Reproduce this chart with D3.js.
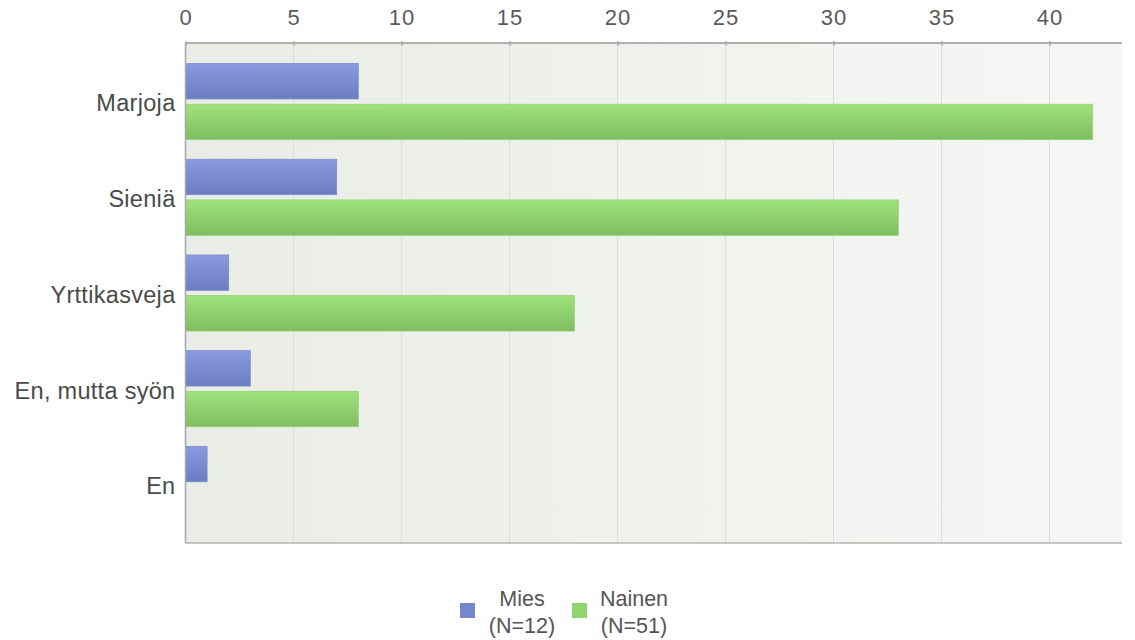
<!DOCTYPE html>
<html><head><meta charset="utf-8">
<script src="https://cdn.jsdelivr.net/npm/d3@7"></script>
<style>html,body{margin:0;padding:0;background:#fff;}svg{display:block;}</style>
</head><body>
<svg id="c" width="1135" height="640"></svg>
<script>
const categories = ["Marjoja", "Sieniä", "Yrttikasveja", "En, mutta syön", "En"];
const seriesNames = ["Mies", "Nainen"];
const seriesN = ["(N=12)", "(N=51)"];
const mies = [8, 7, 2, 3, 1];
const nainen = [42, 33, 18, 8, 0];
const xTicks = [0, 5, 10, 15, 20, 25, 30, 35, 40];

const svg = d3.select("#c");
const L = 185.5, R = 1122, T = 43, B = 543;
const x = d3.scaleLinear().domain([0, 40]).range([L, 1049.5]);
const y0 = d3.scaleBand().domain(categories).range([T, B]).paddingInner(0.205).paddingOuter(0.215);
const y1 = d3.scaleBand().domain(seriesNames).range([0, y0.bandwidth()]).paddingInner(0.13);

const defs = svg.append("defs");
const bg = defs.append("linearGradient").attr("id", "bg").attr("x1", 0).attr("x2", 1).attr("y1", 0).attr("y2", 0);
bg.append("stop").attr("offset", 0).attr("stop-color", "#e9ede5");
bg.append("stop").attr("offset", 1).attr("stop-color", "#f6f7f5");
const gb = defs.append("linearGradient").attr("id", "gBlue").attr("x1", 0).attr("x2", 0).attr("y1", 0).attr("y2", 1);
gb.append("stop").attr("offset", 0).attr("stop-color", "#8a9ae2");
gb.append("stop").attr("offset", 1).attr("stop-color", "#6b7cc0");
const gg = defs.append("linearGradient").attr("id", "gGreen").attr("x1", 0).attr("x2", 0).attr("y1", 0).attr("y2", 1);
gg.append("stop").attr("offset", 0).attr("stop-color", "#9fe27b");
gg.append("stop").attr("offset", 1).attr("stop-color", "#80bd62");
const fills = {"Mies": "url(#gBlue)", "Nainen": "url(#gGreen)"};
const strokes = {"Mies": "#7d8bd0", "Nainen": "#93d273"};
const legendColors = {"Mies": "#7586cf", "Nainen": "#8fd46c"};

svg.append("rect").attr("x", L).attr("y", T).attr("width", R - L).attr("height", B - T).attr("fill", "url(#bg)");

// gridlines
svg.append("g").selectAll("line").data(xTicks.slice(1)).join("line")
  .attr("x1", d => x(d)).attr("x2", d => x(d)).attr("y1", T).attr("y2", B)
  .attr("stroke", "#dcdfd9").attr("stroke-width", 1);

// bars
const data = categories.map((c, i) => ({cat: c, vals: [{s: "Mies", v: mies[i]}, {s: "Nainen", v: nainen[i]}]}));
const grp = svg.append("g").selectAll("g").data(data).join("g")
  .attr("transform", d => `translate(0,${y0(d.cat)})`);
grp.selectAll("rect").data(d => d.vals.filter(e => e.v > 0)).join("rect")
  .attr("x", x(0)).attr("y", d => y1(d.s)).attr("width", d => x(d.v) - x(0)).attr("height", y1.bandwidth())
  .attr("fill", d => fills[d.s]).attr("stroke", d => strokes[d.s]).attr("stroke-width", 0.8);

// top axis
const ax = svg.append("g").attr("transform", `translate(0,${T})`)
  .call(d3.axisTop(x).tickValues(xTicks).tickSize(5).tickPadding(13).tickFormat(d3.format("d")));
ax.select(".domain").remove();
ax.selectAll(".tick line").attr("stroke", "#999").attr("y2", 3).attr("y1", -2);
ax.selectAll(".tick text").attr("fill", "#5a5a5a").style("font-family", "Liberation Sans, Arial, sans-serif")
  .style("font-size", "22px").style("letter-spacing", "1px");
svg.append("line").attr("x1", L).attr("x2", R).attr("y1", T).attr("y2", T).attr("stroke", "#999").attr("stroke-width", 1.5);

// left axis
const ay = svg.append("g").attr("transform", `translate(${L},0)`)
  .call(d3.axisLeft(y0).tickSize(0).tickPadding(10));
ay.select(".domain").remove();
ay.selectAll(".tick text").attr("fill", "#4a4a4a").attr("dy", "0.42em").style("font-family", "Liberation Sans, Arial, sans-serif")
  .style("font-size", "23.5px").style("letter-spacing", "0.3px");
svg.append("line").attr("x1", L).attr("x2", L).attr("y1", T).attr("y2", B).attr("stroke", "#a9a9a9").attr("stroke-width", 1.5);
svg.append("line").attr("x1", L).attr("x2", R).attr("y1", B).attr("y2", B).attr("stroke", "#b5b5b5").attr("stroke-width", 1.5);

// legend
const legX = [460, 572];
const lg = svg.append("g").selectAll("g").data(seriesNames).join("g")
  .attr("transform", (d, i) => `translate(${legX[i]},0)`);
lg.append("rect").attr("x", 0).attr("y", 603).attr("width", 15).attr("height", 15).attr("fill", d => legendColors[d]);
lg.append("text").attr("x", 62).attr("y", 606).attr("text-anchor", "middle")
  .attr("fill", "#555").style("font-family", "Liberation Sans, Arial, sans-serif").style("font-size", "21.5px").text(d => d);
lg.append("text").attr("x", 62).attr("y", 633).attr("text-anchor", "middle")
  .attr("fill", "#555").style("font-family", "Liberation Sans, Arial, sans-serif").style("font-size", "21.5px").text((d, i) => seriesN[i]);
</script>
</body></html>
